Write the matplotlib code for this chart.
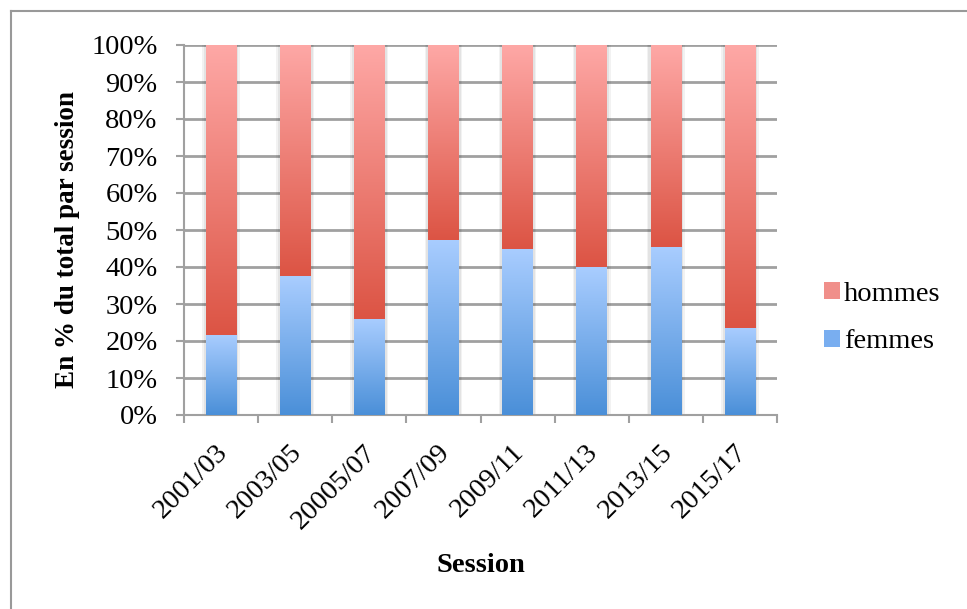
import matplotlib
matplotlib.use("Agg")
import matplotlib.pyplot as plt
import numpy as np
from matplotlib.colors import LinearSegmentedColormap
from matplotlib.lines import Line2D
from matplotlib.patches import Rectangle
from matplotlib.ticker import FixedLocator, NullFormatter, FuncFormatter
from matplotlib.transforms import ScaledTranslation

sessions = ["2001/03", "2003/05", "20005/07", "2007/09", "2009/11", "2011/13", "2013/15", "2015/17"]
femmes = [21.7, 37.5, 26.0, 47.3, 44.9, 40.0, 45.5, 23.6]
hommes = [100 - v for v in femmes]

plt.rcParams['font.family'] = ['Liberation Serif', 'DejaVu Serif']

fig = plt.figure(figsize=(9.67, 6.09), dpi=100)
ax = fig.add_axes([184/967, 1-415/609, (777-184)/967, (415-45)/609])

x = np.arange(len(sessions))
w = 0.41
grid_c = '#a0a0a0'
fs = 20.5

cm_f = LinearSegmentedColormap.from_list('f', ['#4a8fd8', '#a9cdff'])
cm_h = LinearSegmentedColormap.from_list('h', ['#dc5444', '#fea8a6'])
grad = np.linspace(0, 1, 256).reshape(-1, 1)

bf = ax.bar(x, femmes, w, color='none', zorder=3)
bh = ax.bar(x, hommes, w, bottom=femmes, color='none', zorder=3)

for bars, cm in ((bf, cm_f), (bh, cm_h)):
    for r in bars:
        x0, y0 = r.get_x(), r.get_y()
        ww, hh = r.get_width(), r.get_height()
        ax.imshow(grad, cmap=cm, origin='lower', aspect='auto',
                  extent=[x0, x0 + ww, y0, y0 + hh], zorder=3, interpolation='bicubic')
# soft shadows
for r in bf:
    for k, a in ((0.05, 0.05), (0.03, 0.06)):
        ax.add_patch(Rectangle((r.get_x() - k, 0), r.get_width() + 2*k, 100,
                               facecolor='black', alpha=a, edgecolor='none', zorder=2.5))

ax.set_xlim(-0.5, len(sessions) - 0.5)
ax.set_ylim(0, 100)

ax.xaxis.set_major_locator(FixedLocator(np.arange(-0.5, len(sessions), 1.0)))
ax.xaxis.set_major_formatter(NullFormatter())
ax.xaxis.set_minor_locator(FixedLocator(x))
ax.set_xticklabels(sessions, minor=True, rotation=45, ha='right', rotation_mode='anchor', fontsize=fs)
ax.tick_params(axis='x', which='minor', length=0, pad=18)
ax.tick_params(axis='x', which='major', length=6, width=1.5, color=grid_c, direction='out')
off = ScaledTranslation(-6/100, 0, fig.dpi_scale_trans)
for lab in ax.get_xticklabels(minor=True):
    lab.set_transform(lab.get_transform() + off)

ax.set_yticks(np.arange(0, 101, 10))
ax.yaxis.set_major_formatter(FuncFormatter(lambda v, p: f"{int(v)}%"))
ax.tick_params(axis='y', length=6, width=1.5, color=grid_c, direction='out', labelsize=fs, pad=13)

ax.grid(axis='y', color=grid_c, linewidth=2, zorder=1)
ax.set_axisbelow(True)
for s in ('top', 'right'):
    ax.spines[s].set_visible(False)
for s in ('left', 'bottom'):
    ax.spines[s].set_color(grid_c)
    ax.spines[s].set_linewidth(1.5)

ax.set_xlabel('Session', fontsize=fs, fontweight='bold', va='center')
ax.xaxis.set_label_coords(0.5, -(565-415)/370)
ax.set_ylabel('En % du total par session', fontsize=19.5, fontweight='bold', va='center')
ax.yaxis.set_label_coords(-(184-68)/593, (415-240)/370)

# legend
hh = Rectangle((0, 0), 1, 1, facecolor='#f08f8a', edgecolor='none')
hf = Rectangle((0, 0), 1, 1, facecolor='#79aef0', edgecolor='none')
leg = fig.legend([hh, hf], ['hommes', 'femmes'], loc='center left',
                 bbox_to_anchor=(824/967, 1-318/609), frameon=False, fontsize=fs,
                 handlelength=0.55, handleheight=0.55, handletextpad=0.15, labelspacing=0.8,
                 borderaxespad=0, borderpad=0)

# outer frame
fig.add_artist(Line2D([11/967, 1], [1-11/609, 1-11/609], color='#999999', linewidth=1.5))
fig.add_artist(Line2D([11/967, 11/967], [0, 1-11/609], color='#999999', linewidth=1.5))

fig.savefig('out.png', dpi=100)
